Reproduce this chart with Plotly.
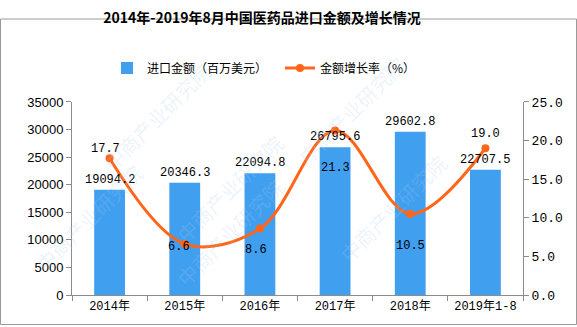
import plotly.graph_objects as go

categories = ["2014年", "2015年", "2016年", "2017年", "2018年", "2019年1-8"]
import_values = [19094.2, 20346.3, 22094.8, 26795.6, 29602.8, 22707.5]
growth_rates = [17.7, 6.6, 8.6, 21.3, 10.5, 19.0]
bar_label_text = ["19094.2", "20346.3", "22094.8", "26795.6", "29602.8", "22707.5"]
rate_label_text = ["17.7", "6.6", "8.6", "21.3", "10.5", "19.0"]

# styling offsets (pixels) for labels relative to marks
rate_label_yshift = [9, -3, -21, -37, -32, 14]
rate_label_xshift = [-4, -6, -4, 0, 0, 0]
bar_label_yshift = 10

W, H = 577, 327
ML, MR, MT, MB = 72, 54, 89, 32
PW, PH = W - ML - MR, H - MT - MB

BLUE = "#419FF0"
ORANGE = "#FF661A"
GRAY = "#8C8C8C"
CJK = "Liberation Mono, Noto Sans CJK SC"

fig = go.Figure()
fig.add_trace(go.Bar(
    x=categories, y=import_values, name="进口金额（百万美元）",
    marker=dict(color=BLUE, line=dict(width=0)), width=0.41,
    yaxis="y",
))
fig.add_trace(go.Scatter(
    x=categories, y=growth_rates, name="金额增长率（%）",
    mode="lines+markers", line=dict(color=ORANGE, width=3, shape="spline", smoothing=1.0),
    marker=dict(color=ORANGE, size=8), yaxis="y2", cliponaxis=False,
))

annotations = []
for c, v, t in zip(categories, import_values, bar_label_text):
    annotations.append(dict(x=c, y=v, xref="x", yref="y", text=t, showarrow=False,
                            yshift=bar_label_yshift, yanchor="middle",
                            font=dict(family=CJK, size=12, color="#000000")))
for c, v, t, ys, xs in zip(categories, growth_rates, rate_label_text, rate_label_yshift, rate_label_xshift):
    annotations.append(dict(x=c, y=v, xref="x", yref="y2", text=t, showarrow=False,
                            yshift=ys, xshift=xs,
                            font=dict(family=CJK, size=12, color="#000000")))

# faint watermarks
wm_pos = [(0.05, 1.25), (0.62, 1.28), (0.35, 0.55), (0.85, 0.45), (0.35, 0.0), (-0.1, 0.4)]
for x, y in wm_pos:
    annotations.append(dict(x=x, y=y, xref="paper", yref="paper", text="中商产业研究院",
                            showarrow=False, textangle=-45,
                            font=dict(family="Noto Sans CJK SC", size=20, color="rgba(170,205,235,0.22)")))

fig.update_layout(
    width=W, height=H,
    margin=dict(l=ML, r=MR, t=MT, b=MB),
    paper_bgcolor="white", plot_bgcolor="white",
    title=dict(text="<b>2014年-2019年8月中国医药品进口金额及增长情况</b>",
               x=262 / W, xanchor="center", xref="container",
               y=1 - 18 / H, yanchor="middle", yref="container",
               font=dict(family="Noto Sans CJK SC", size=14, color="#000000")),
    legend=dict(orientation="h", x=107 / W, xref="container", y=1 - 68 / H, yref="container",
                yanchor="middle", xanchor="left",
                font=dict(family="Noto Sans CJK SC", size=12, color="#000000"),
                bgcolor="rgba(0,0,0,0)", itemwidth=30, entrywidth=128),
    showlegend=True,
    bargap=0.59,
    xaxis=dict(type="category", showline=True, linecolor=GRAY, linewidth=1,
               ticks="outside", tickson="boundaries", ticklen=5, tickcolor=GRAY,
               tickfont=dict(family=CJK, size=12, color="#000000"),
               showgrid=False, zeroline=False),
    yaxis=dict(range=[0, 35000], dtick=5000, tickformat="d", showline=True, linecolor=GRAY, linewidth=1,
               ticks="outside", ticklen=5, tickcolor=GRAY, showgrid=False, zeroline=False,
               tickfont=dict(family="Liberation Sans", size=13, color="#000000")),
    yaxis2=dict(range=[0, 25], dtick=5, tickformat=".1f", overlaying="y", side="right",
                showline=True, linecolor=GRAY, linewidth=1, ticks="outside", ticklen=5,
                tickcolor=GRAY, showgrid=False, zeroline=False,
                tickfont=dict(family="Liberation Mono", size=13, color="#000000")),
    annotations=annotations,
    shapes=[dict(type="rect", xref="paper", yref="paper",
                 x0=(0.5 - ML) / PW, x1=(W - 0.5 - ML) / PW,
                 y0=(H - MB - (H - 0.5)) / PH, y1=(H - MB - 0.5) / PH,
                 line=dict(color="#9A9A9A", width=1), layer="above")],
)

fig.write_html("out.html")
